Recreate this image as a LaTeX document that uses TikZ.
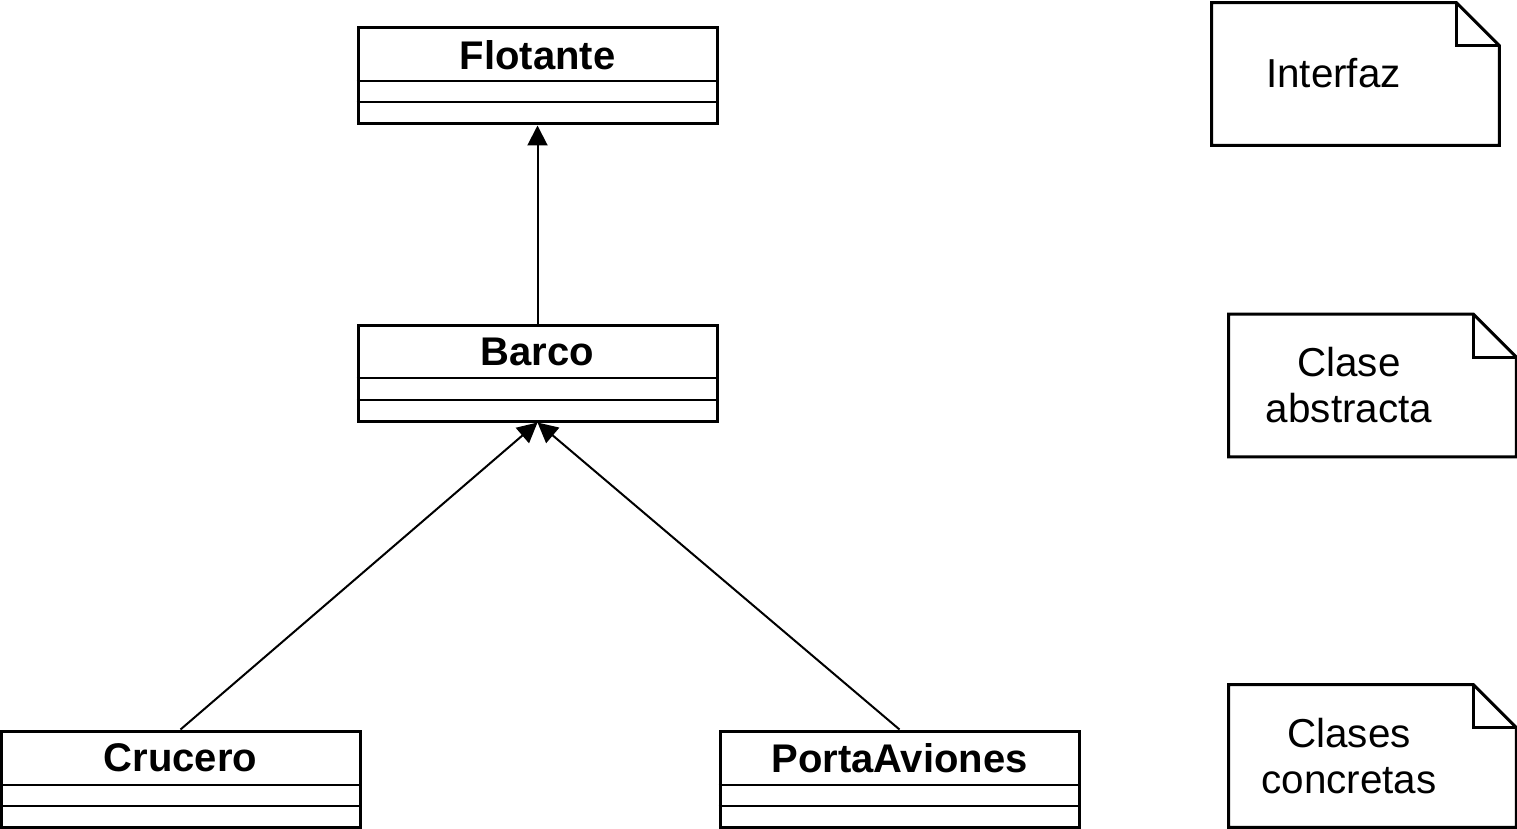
\documentclass[tikz,border=0pt]{standalone}
\usepackage{fontspec}
\setmainfont{Liberation Sans}
\usetikzlibrary{arrows.meta}
\begin{document}
\begin{tikzpicture}[x=0.5pt,y=-0.5pt,
  clsbox/.style={draw, line width=1.5pt, minimum width=179.5pt, minimum height=48pt, inner sep=0pt, fill=white},
  clsname/.style={font=\fontsize{20pt}{23pt}\selectfont\bfseries, inner sep=0pt},
  divider/.style={line width=1pt},
  inh/.style={line width=1pt, -{Triangle[length=10pt,width=10pt]}},
  notearea/.style={minimum width=143.5pt, minimum height=71pt, inner sep=0pt},
  noteline/.style={line width=1.5pt, line join=miter},
  notetext/.style={font=\fontsize{20.2pt}{23pt}\selectfont, align=center, inner sep=0pt}]
\useasboundingbox (0,0) rectangle (1517,829);

% Flotante
\node[clsbox] (flot) at (537.5,76) {};
\node[clsname] (flotname) at (537.5,55) {Flotante};
\draw[divider] (flot.west |- 0,81) -- (flot.east |- 0,81);
\draw[divider] (flot.west |- 0,102) -- (flot.east |- 0,102);

% Barco
\node[clsbox] (barco) at (537.5,373) {};
\node[clsname] (barconame) at (537.5,352) {Barco};
\draw[divider] (barco.west |- 0,378) -- (barco.east |- 0,378);
\draw[divider] (barco.west |- 0,400) -- (barco.east |- 0,400);

% Crucero
\node[clsbox] (cruc) at (180.5,779) {};
\node[clsname] (crucname) at (180.5,758) {Crucero};
\draw[divider] (cruc.west |- 0,785) -- (cruc.east |- 0,785);
\draw[divider] (cruc.west |- 0,806) -- (cruc.east |- 0,806);

% PortaAviones
\node[clsbox] (porta) at (899.5,779) {};
\node[clsname] (portaname) at (899.5,758) {PortaAviones};
\draw[divider] (porta.west |- 0,785) -- (porta.east |- 0,785);
\draw[divider] (porta.west |- 0,806) -- (porta.east |- 0,806);

% Inheritance
\draw[inh] (barco.north) -- (flot.south);
\draw[inh] (cruc.north) -- (barco.south);
\draw[inh] (porta.north) -- (barco.south);

% Notes
\node[notearea] (n1) at (1355.5,74) {};
\node[notearea] (n2) at (1372.5,385.5) {};
\node[notearea] (n3) at (1372.5,756) {};
\foreach \n in {n1,n2,n3}{
  \draw[noteline] (\n.north west) -- ([xshift=-21.5pt]\n.north east) -- ([yshift=-21.5pt]\n.north east) -- (\n.south east) -- (\n.south west) -- cycle;
  \draw[noteline] ([xshift=-21.5pt]\n.north east) |- ([yshift=-21.5pt]\n.north east);
}
\node[notetext] (t1) at (1333.5,73) {Interfaz};
\node[notetext] (t2) at (1349,385) {Clase\\abstracta};
\node[notetext] (t3) at (1349,756) {Clases\\concretas};
\end{tikzpicture}
\end{document}
